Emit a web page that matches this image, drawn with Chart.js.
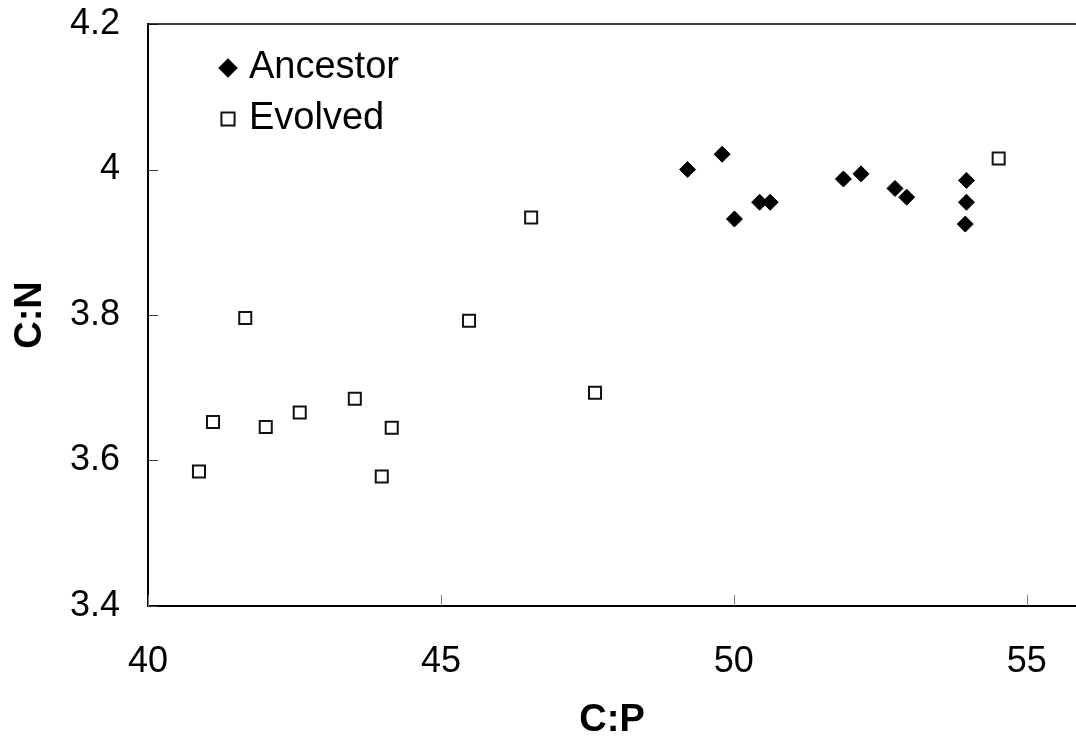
<!DOCTYPE html>
<html lang="en">

<head>
    <meta charset="UTF-8">
    <title>C:N vs C:P</title>
    <script src="https://cdn.jsdelivr.net/npm/chart.js"></script>
    <style>
        body { margin: 0; background: #fff; }
        #box { width: 1076px; height: 740px; }
    </style>
</head>

<body>
    <div id="box">
        <canvas id="grafico"></canvas>
    </div>
</body>
</html>

<script>
    // valores
    const ancestorCP = [49.21, 49.80, 50.01, 50.44, 50.62, 51.87, 52.17, 52.75, 52.95, 53.97, 53.97, 53.95];
    const ancestorCN = [4.000, 4.021, 3.932, 3.955, 3.955, 3.987, 3.994, 3.974, 3.962, 3.985, 3.955, 3.925];

    const evolvedCP = [40.87, 41.11, 41.66, 42.01, 42.59, 43.53, 43.99, 44.16, 45.48, 46.54, 47.63, 54.52];
    const evolvedCN = [3.585, 3.653, 3.796, 3.646, 3.666, 3.685, 3.578, 3.645, 3.792, 3.934, 3.693, 4.015];

    const nomesSeries = ['Ancestor', 'Evolved'];
    const xMin = 40, xMax = 55.84, xPasso = 5;
    const yMin = 3.4, yMax = 4.2, yPasso = 0.2;

    const fonte = "'Liberation Sans', Arial, sans-serif";

    function pontos(xs, ys) {
        return xs.map((x, i) => ({ x: x, y: ys[i] }));
    }

    // marcas de escala para dentro, borda de cima e legenda dentro da area
    const extras = {
        id: 'extras',
        afterDraw(chart) {
            const ctx = chart.ctx;
            const area = chart.chartArea;
            const sx = chart.scales.x;
            const sy = chart.scales.y;
            ctx.save();

            ctx.lineWidth = 1;
            ctx.strokeStyle = '#808080';
            sx.ticks.forEach((t, i) => {
                const px = Math.round(sx.getPixelForTick(i)) + 0.5;
                ctx.beginPath();
                ctx.moveTo(px, area.bottom);
                ctx.lineTo(px, area.bottom - 11);
                ctx.stroke();
            });
            ctx.strokeStyle = '#404040';
            sy.ticks.forEach((t, i) => {
                const py = Math.round(sy.getPixelForTick(i)) + 0.5;
                ctx.beginPath();
                ctx.moveTo(area.left, py);
                ctx.lineTo(area.left + 10, py);
                ctx.stroke();
            });

            ctx.strokeStyle = '#000';
            ctx.lineWidth = 1.5;
            ctx.beginPath();
            ctx.moveTo(area.left, area.top);
            ctx.lineTo(area.right, area.top);
            ctx.stroke();

            // legenda
            ctx.font = '38px ' + fonte;
            ctx.textBaseline = 'middle';
            ctx.textAlign = 'left';
            chart.data.datasets.forEach((ds, i) => {
                const y = 68 + i * 51;
                ctx.fillStyle = ds.backgroundColor;
                ctx.strokeStyle = ds.borderColor;
                ctx.lineWidth = ds.borderWidth;
                Chart.helpers.drawPoint(ctx, { pointStyle: ds.pointStyle, radius: 9.3, rotation: 0, borderWidth: ds.borderWidth }, 228, y);
                ctx.fillStyle = '#000';
                ctx.fillText(ds.label, 249, y);
            });
            ctx.restore();
        }
    };

    new Chart(document.getElementById('grafico'), {
        type: 'scatter',
        data: {
            datasets: [{
                label: nomesSeries[0],
                data: pontos(ancestorCP, ancestorCN),
                pointStyle: 'rectRot',
                pointRadius: 8,
                pointHoverRadius: 8,
                backgroundColor: '#000',
                borderColor: '#000',
                borderWidth: 1
            }, {
                label: nomesSeries[1],
                data: pontos(evolvedCP, evolvedCN),
                pointStyle: 'rect',
                pointRadius: 8.5,
                pointHoverRadius: 8.5,
                backgroundColor: '#fff',
                borderColor: '#111',
                borderWidth: 2
            }]
        },
        options: {
            responsive: true,
            maintainAspectRatio: false,
            animation: false,
            layout: { autoPadding: false, padding: { top: 24, right: 0, left: 0, bottom: 0 } },
            plugins: {
                legend: { display: false },
                tooltip: { enabled: false }
            },
            scales: {
                x: {
                    type: 'linear',
                    min: xMin,
                    max: xMax,
                    afterFit: s => { s.height = 134; s.paddingLeft = 0; s.paddingRight = 0; },
                    grid: { drawOnChartArea: false, drawTicks: false },
                    border: { display: true, color: '#000', width: 2 },
                    ticks: {
                        stepSize: xPasso,
                        includeBounds: false,
                        padding: 34,
                        color: '#000',
                        font: { family: fonte, size: 36 },
                        maxRotation: 0
                    },
                    title: {
                        display: true,
                        text: 'C:P',
                        color: '#000',
                        padding: { top: 0, bottom: 0 },
                        font: { family: fonte, size: 38, weight: 'bold', lineHeight: 1 }
                    }
                },
                y: {
                    type: 'linear',
                    min: yMin,
                    max: yMax,
                    afterFit: s => { s.width = 148; s.paddingTop = 0; s.paddingBottom = 0; },
                    grid: { drawOnChartArea: false, drawTicks: false },
                    border: { display: true, color: '#000', width: 2 },
                    ticks: {
                        stepSize: yPasso,
                        padding: 28,
                        color: '#000',
                        font: { family: fonte, size: 36 },
                        callback: v => String(Number(v.toFixed(1)))
                    },
                    title: {
                        display: true,
                        text: 'C:N',
                        color: '#000',
                        padding: { top: 12, bottom: 0 },
                        font: { family: fonte, size: 38, weight: 'bold', lineHeight: 1 }
                    }
                }
            }
        },
        plugins: [extras]
    });
</script>
